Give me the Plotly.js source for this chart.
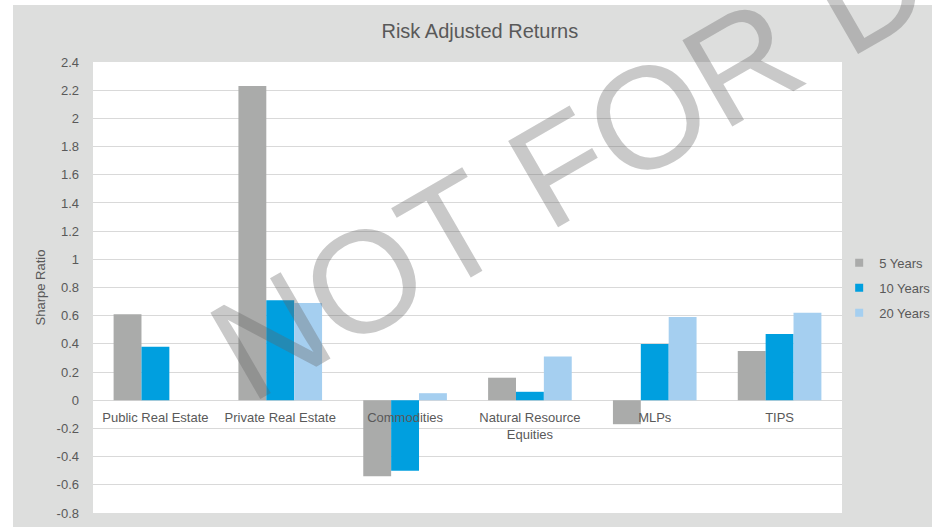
<!DOCTYPE html>
<html>
<head>
<meta charset="utf-8">
<script src="https://cdn.plot.ly/plotly-3.0.1.min.js"></script>
<style>
  html, body { margin: 0; padding: 0; background: #ffffff; width: 932px; height: 527px; overflow: hidden; }
  #wrap { position: relative; width: 932px; height: 527px; }
  #chart { position: absolute; left: 13px; top: 5px; width: 919px; height: 522px; }
  #wm { position: absolute; left: 0; top: 0; width: 932px; height: 527px; pointer-events: none; }
</style>
</head>
<body>
<div id="wrap">
  <div id="chart"></div>
  <svg id="wm" width="932" height="527" xmlns="http://www.w3.org/2000/svg">
    <text x="250" y="405" transform="rotate(-30 250 405)" font-family="Liberation Sans, Arial, sans-serif" font-size="145" fill="rgb(100,100,100)" fill-opacity="0.35">NOT FOR DISTRIBUTION</text>
  </svg>
</div>
<script>
const categories = ["Public Real Estate", "Private Real Estate", "Commodities", "Natural Resource<br>Equities", "MLPs", "TIPS"];
const seriesNames = ["5 Years", "10 Years", "20 Years"];
const fiveYears   = [0.61, 2.23, -0.54, 0.16, -0.17, 0.35];
const tenYears    = [0.38, 0.71, -0.50, 0.06, 0.40, 0.47];
const twentyYears = [null, 0.69, 0.05, 0.31, 0.59, 0.62];
const yTickVals   = [-0.8, -0.6, -0.4, -0.2, 0, 0.2, 0.4, 0.6, 0.8, 1, 1.2, 1.4, 1.6, 1.8, 2, 2.2, 2.4];
const yTickText   = ["-0.8", "-0.6", "-0.4", "-0.2", "0", "0.2", "0.4", "0.6", "0.8", "1", "1.2", "1.4", "1.6", "1.8", "2", "2.2", "2.4"];

const colors = ["#aaabaa", "#009fdf", "#a5cff0"];
const values = [fiveYears, tenYears, twentyYears];

const traces = values.map((v, i) => ({
  type: "bar",
  name: seriesNames[i],
  x: categories,
  y: v,
  marker: { color: colors[i] },
  showlegend: false,
  hoverinfo: "x+y+name"
}));
// legend entries with small square markers
seriesNames.forEach((n, i) => {
  traces.push({
    type: "scatter",
    mode: "markers",
    name: n,
    legendgroup: "g" + i,
    x: [null],
    y: [null],
    marker: { symbol: "square", size: 8, color: colors[i] },
    showlegend: true,
    hoverinfo: "skip"
  });
});

const textColor = "#595959";
const layout = {
  width: 919,
  height: 522,
  paper_bgcolor: "#dddedd",
  plot_bgcolor: "#ffffff",
  margin: { l: 80, r: 90, t: 57, b: 14, pad: 0, autoexpand: false },
  font: { family: "Liberation Sans, Arial, sans-serif", size: 13, color: textColor },
  title: {
    text: "Risk Adjusted Returns",
    font: { size: 20, color: textColor },
    xref: "container", x: 0.508, xanchor: "center",
    yref: "container", y: 0.95, yanchor: "middle"
  },
  barmode: "group",
  bargap: 0.33,
  bargroupgap: 0,
  xaxis: {
    type: "category",
    anchor: "free",
    position: 0.25,
    showgrid: false,
    showline: false,
    ticks: "",
    ticklabelstandoff: 8,
    tickfont: { size: 13, color: textColor },
    fixedrange: true
  },
  yaxis: {
    range: [-0.8, 2.4],
    tickvals: yTickVals,
    ticktext: yTickText,
    showgrid: true,
    gridcolor: "#d9d9d9",
    gridwidth: 1,
    zeroline: true,
    zerolinecolor: "#d9d9d9",
    zerolinewidth: 1,
    showline: false,
    ticks: "",
    ticklabelstandoff: 13,
    tickfont: { size: 13, color: textColor },
    title: { text: "Sharpe Ratio", font: { size: 13, color: textColor }, standoff: 8 },
    fixedrange: true
  },
  legend: {
    xref: "container", x: 0.899, xanchor: "left",
    yref: "container", y: 0.458, yanchor: "middle",
    bgcolor: "rgba(0,0,0,0)",
    font: { size: 13, color: textColor },
    itemwidth: 30,
    traceorder: "grouped",
    tracegroupgap: 5
  },
  showlegend: true
};

Plotly.newPlot("chart", traces, layout, { displayModeBar: false, staticPlot: true });
</script>
</body>
</html>
